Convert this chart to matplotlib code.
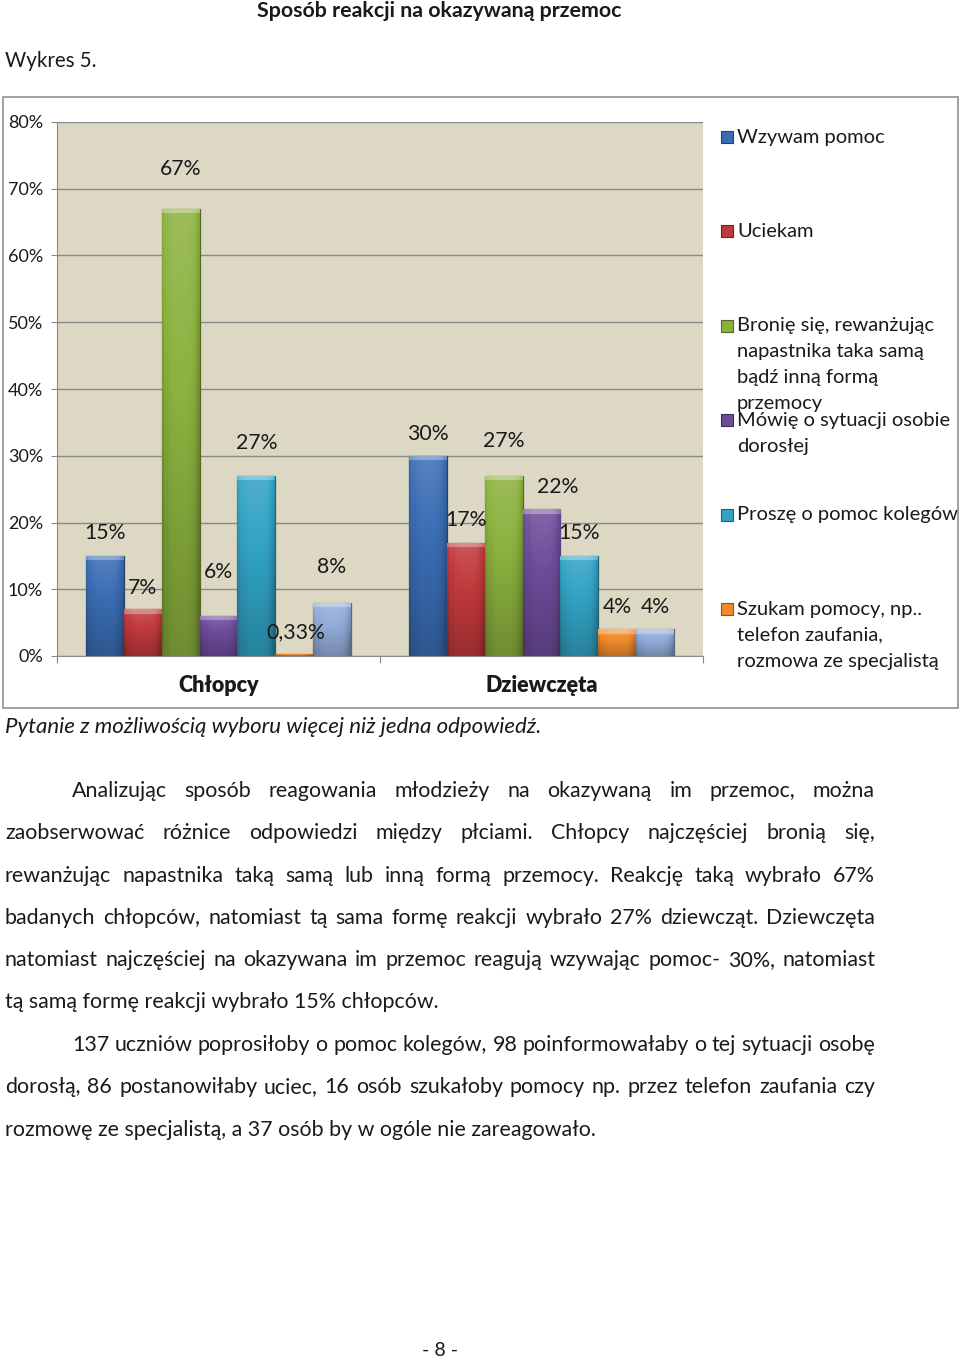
import numpy as np
import matplotlib
matplotlib.use('Agg')
import matplotlib.pyplot as plt
from matplotlib.colors import to_rgb
from matplotlib.patches import Rectangle

# --- data ---
groups = ['Chłopcy', 'Dziewczęta']
answers = ['Wzywam pomoc',
           'Uciekam',
           'Bronię się, rewanżując\nnapastnika taka samą\nbądź inną formą\nprzemocy',
           'Mówię o sytuacji osobie\ndorosłej',
           'Proszę o pomoc kolegów',
           'Szukam pomocy, np..\ntelefon zaufania,\nrozmowa ze specjalistą',
           'Nie reaguję']
boys = [15, 7, 67, 6, 27, 0.33, 8]
girls = [30, 17, 27, 22, 15, 4, 4]
yticks = [0, 10, 20, 30, 40, 50, 60, 70, 80]

colors = ['#3a6cb3', '#c0393b', '#8bb13e', '#6d4b99', '#31a2c3', '#f08a2b', '#93acd9']
# label offsets in pixels (dx, dy above bar top), as placed in the original
label_off = [[(0, 23), (0, 21), (0, 40), (0, 44), (0, 33), (2, 22), (0, 36)],
             [(0, 22), (0, 23), (0, 35), (16, 22), (0, 23), (0, 22), (0, 22)]]

W, H = 960, 1359
FONT = 'Lato'
TXT = '#1a1a1a'
BODY = 15.4

fig = plt.figure(figsize=(W / 100, H / 100), dpi=100)
fig.patch.set_facecolor('white')


def fx(x):
    return x / W


def fy(y):
    return 1 - y / H


def shade(c, f):
    r = np.array(to_rgb(c))
    if f >= 0:
        return r + (1 - r) * f
    return r * (1 + f)


# heading
fig.text(fx(439), fy(11), 'Sposób reakcji na okazywaną przemoc', ha='center', va='center',
         fontsize=15.4, fontweight='bold', family=FONT, color=TXT)
fig.text(fx(5), fy(61), 'Wykres 5.', ha='left', va='center', fontsize=14.8, family=FONT, color=TXT)

# chart frame
fig.patches.append(Rectangle((fx(3), fy(708)), (958 - 3) / W, (708 - 97) / H, transform=fig.transFigure,
                             fill=False, edgecolor='#9a9a9a', lw=1.3))

ax = fig.add_axes([fx(57), fy(656), 646 / W, 534 / H])
ax.set_facecolor('#ddd8c3')
ax.set_xlim(-0.5, 1.5)
ax.set_ylim(0, 80)
ax.set_axisbelow(True)
ax.yaxis.grid(True, color='#8a8a8a', lw=1)
for s in ['top', 'right']:
    ax.spines[s].set_visible(False)
ax.spines['left'].set_color('#8a8a8a')
ax.spines['bottom'].set_color('#8a8a8a')

ax.set_yticks(yticks)
ax.set_yticklabels([f'{t}%' for t in yticks], family=FONT, fontsize=13, color=TXT)
ax.tick_params(axis='y', length=4, color='#8a8a8a', pad=6)
ax.set_xticks([-0.5, 0.5, 1.5])
ax.set_xticklabels([])
ax.tick_params(axis='x', which='major', length=5, color='#8a8a8a')
ax.set_xticks([0, 1], minor=True)
ax.set_xticklabels(groups, minor=True, family=FONT, fontsize=15.5, fontweight='heavy', color=TXT)
ax.tick_params(axis='x', which='minor', length=0, pad=14)

n = len(answers)
width = 0.82 / n
x = np.arange(len(groups))
px_per_unit = 534 / 80

for i in range(n):
    vals = [boys[i], girls[i]]
    pos = x - 0.41 + width * (i + 0.5)
    bars = ax.bar(pos, vals, width, color=colors[i], edgecolor=shade(colors[i], -0.4), lw=0.9,
                  label=answers[i], zorder=2)
    for g, b in enumerate(bars):
        x0, h = b.get_x(), b.get_height()
        rows = max(3, int(h * px_per_unit))
        cols = 24
        v = np.linspace(0.15, -0.2, rows)[:, None]
        u = np.linspace(-1, 1, cols)[None, :]
        f = v - 0.22 * u ** 4 + 0.06 * (u < -0.8)
        top = min(5, rows // 2)
        f[:top, :] += 0.28
        base = np.array(to_rgb(colors[i]))
        img = np.where(f[..., None] >= 0, base + (1 - base) * f[..., None], base * (1 + f[..., None]))
        img = np.clip(img, 0, 1)
        im = ax.imshow(img, extent=(x0, x0 + width, 0, h), aspect='auto', zorder=2.5,
                       interpolation='bilinear', origin='upper')
        im.set_clip_path(b)
        dx, dy = label_off[g][i]
        lab = f'{vals[g]:g}%'.replace('.', ',')
        ax.annotate(lab, (x0 + width / 2, h), xytext=(dx, dy), textcoords='offset pixels',
                    ha='center', va='center', fontsize=15.3, family=FONT, color=TXT, zorder=4)
ax.set_xlim(-0.5, 1.5)
ax.set_ylim(0, 80)

# legend (only six entries visible in the original)
for k in range(6):
    y0 = 137 + k * 94.4
    c = colors[k]
    fig.patches.append(Rectangle((fx(721), fy(y0 + 6)), 12 / W, 12 / H, transform=fig.transFigure,
                                 facecolor=c, edgecolor=shade(c, -0.4), lw=0.8))
    for j, line in enumerate(answers[k].split('\n')):
        fig.text(fx(737), fy(y0 + j * 26), line, ha='left', va='center', fontsize=14.5,
                 family=FONT, color=TXT)

fig.text(fx(5), fy(727), 'Pytanie z możliwością wyboru więcej niż jedna odpowiedź.', ha='left',
         va='center', fontsize=16, style='italic', family=FONT, color=TXT)

# body paragraphs
body = [
    (72, True, 'Analizując sposób reagowania młodzieży na okazywaną im przemoc, można'),
    (5, True, 'zaobserwować różnice odpowiedzi między płciami. Chłopcy najczęściej bronią się,'),
    (5, True, 'rewanżując napastnika taką samą lub inną formą przemocy. Reakcję taką wybrało 67%'),
    (5, True, 'badanych chłopców, natomiast tą sama formę reakcji wybrało 27% dziewcząt. Dziewczęta'),
    (5, True, 'natomiast najczęściej na okazywana im przemoc reagują wzywając pomoc- 30%, natomiast'),
    (5, False, 'tą samą formę reakcji wybrało 15% chłopców.'),
    (72, True, '137 uczniów poprosiłoby o pomoc kolegów, 98 poinformowałaby o tej sytuacji osobę'),
    (5, True, 'dorosłą, 86 postanowiłaby uciec, 16 osób szukałoby pomocy np. przez telefon zaufania czy'),
    (5, False, 'rozmowę ze specjalistą, a 37 osób by w ogóle nie zareagowało.'),
]
line_y = [791, 833, 876, 918, 960, 1002, 1045, 1087, 1130]
right_edge = 875
renderer = fig.canvas.get_renderer()
for (x_start, justify, text), y in zip(body, line_y):
    if not justify:
        fig.text(fx(x_start), fy(y), text, ha='left', va='center', fontsize=BODY, family=FONT, color=TXT)
        continue
    words = text.split()
    items = [fig.text(0, fy(y), w, ha='left', va='center', fontsize=BODY, family=FONT, color=TXT)
             for w in words]
    widths = [t.get_window_extent(renderer).width for t in items]
    gap = (right_edge - x_start - sum(widths)) / (len(words) - 1)
    xp = x_start
    for t, w in zip(items, widths):
        t.set_x(fx(xp))
        xp += w + gap

fig.text(fx(440), fy(1350), '- 8 -', ha='center', va='center', fontsize=14, family=FONT, color=TXT)

fig.savefig('out.png', dpi=100)
